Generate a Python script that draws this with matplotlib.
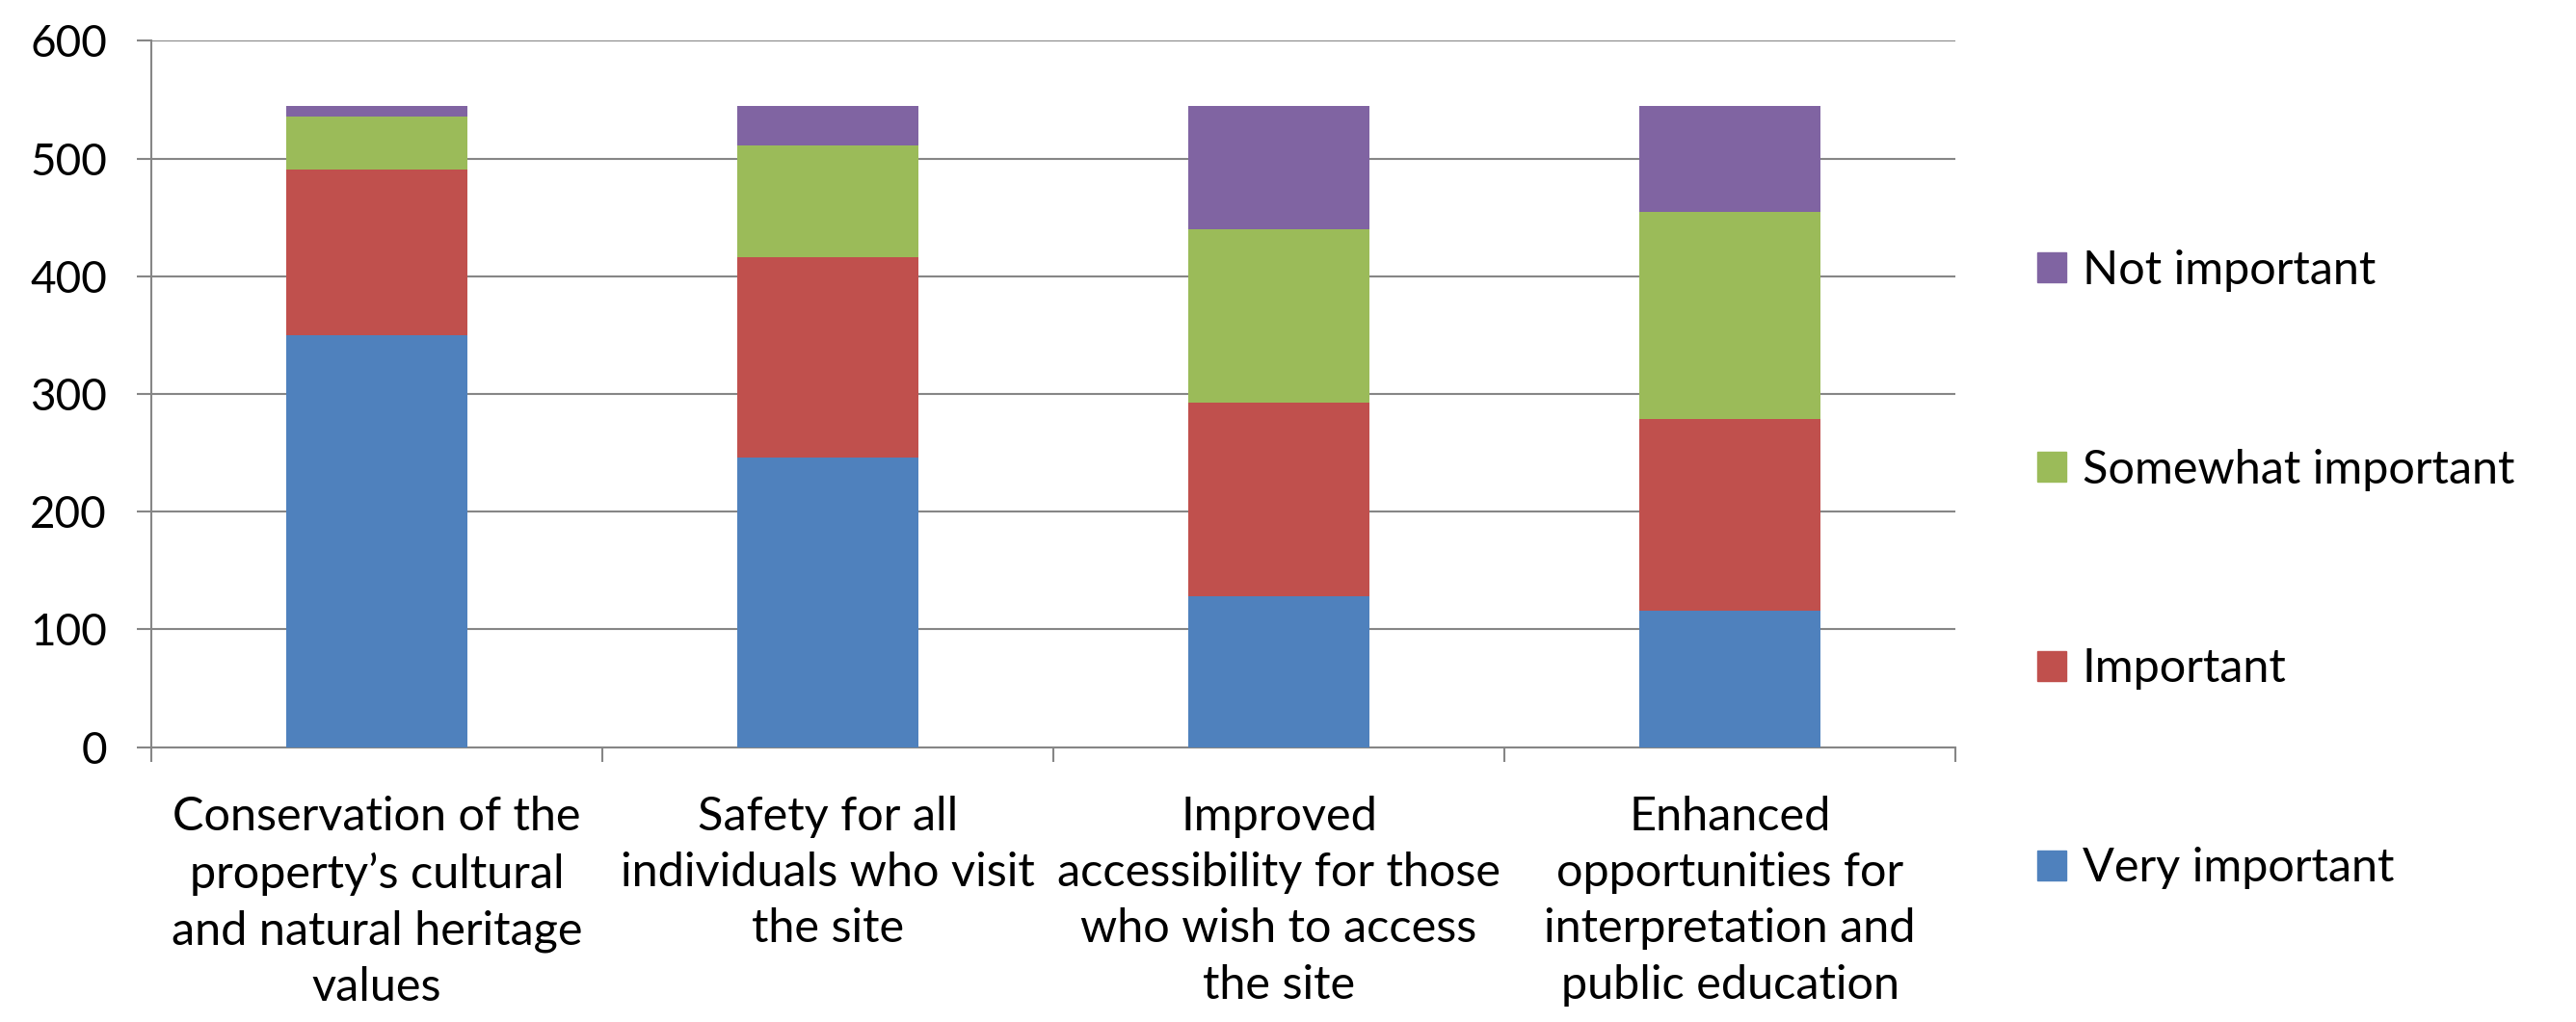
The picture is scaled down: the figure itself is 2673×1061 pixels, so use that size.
import matplotlib.pyplot as plt
from matplotlib.patches import Patch
import numpy as np

categories = [
    "Conservation of the\nproperty\u2019s cultural\nand natural heritage\nvalues",
    "Safety for all\nindividuals who visit\nthe site",
    "Improved\naccessibility for those\nwho wish to access\nthe site",
    "Enhanced\nopportunities for\ninterpretation and\npublic education",
]
very_important = [350, 246, 128, 116]
important = [141, 170, 165, 163]
somewhat_important = [45, 95, 147, 176]
not_important = [9, 34, 105, 90]

series_names = ["Very important", "Important", "Somewhat important", "Not important"]
series_colors = ["#4F81BD", "#C0504D", "#9BBB59", "#8064A2"]

plt.rcParams['font.family'] = ['Lato', 'DejaVu Sans']
fs = 35
grid_col = '#868686'

fig = plt.figure(figsize=(26.73, 10.61), dpi=100)
ax = fig.add_axes([0.0587, 0.269, 0.7004, 0.691])

x = np.arange(len(categories))
bottom = np.zeros(len(categories))
for vals, name, col in zip([very_important, important, somewhat_important, not_important],
                           series_names, series_colors):
    ax.bar(x, vals, 0.4, bottom=bottom, color=col, label=name, zorder=3)
    bottom += np.array(vals)

ax.set_xlim(-0.5, len(categories) - 0.5)
ax.set_ylim(0, 600)
ax.set_yticks(range(0, 601, 100))
ax.yaxis.grid(True, color=grid_col, linewidth=1.5, zorder=0)
ax.set_axisbelow(True)

for s in ['top', 'right']:
    ax.spines[s].set_visible(False)
for s in ['left', 'bottom']:
    ax.spines[s].set_color(grid_col)
    ax.spines[s].set_linewidth(1.5)

ax.set_xticks(x)
ax.set_xticklabels(categories, fontsize=fs, linespacing=1.4, va='top')
ax.set_xticks(np.arange(-0.5, len(categories)), minor=True)
ax.tick_params(axis='x', which='major', length=0, pad=36)
ax.tick_params(axis='x', which='minor', length=11, width=1.5, color=grid_col, direction='out')
ax.tick_params(axis='y', labelsize=33, length=11, width=1.5, color=grid_col, pad=22)

handles = [Patch(color=c) for c in series_colors][::-1]
fig.legend(handles, series_names[::-1], loc='center left', bbox_to_anchor=(0.791, 0.443),
           frameon=False, fontsize=fs, labelspacing=3.35, handlelength=0.6,
           handleheight=0.6, handletextpad=0.35, borderpad=0, borderaxespad=0)

plt.savefig('out.png', dpi=100)
